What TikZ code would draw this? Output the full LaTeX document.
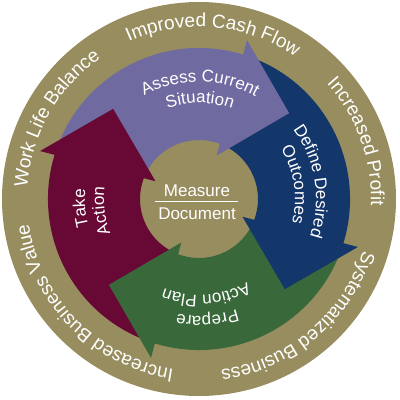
\documentclass[tikz,border=0pt]{standalone}
\usepackage{fontspec}
\setmainfont{Liberation Sans}
\usetikzlibrary{decorations.text}
\definecolor{ringcol}{RGB}{151,141,95}
\definecolor{purp}{RGB}{111,106,160}
\definecolor{navyb}{RGB}{19,54,107}
\definecolor{greenb}{RGB}{57,104,58}
\definecolor{maroonb}{RGB}{104,8,53}
\newcommand\ringfont{\fontsize{19}{19}\selectfont\color{white}}
\newcommand\labfont{\fontsize{17}{17}\selectfont\color{white}}
% #1 centre angle, #2 radius, #3 text
\newcommand\arclabel[3]{%
  \path[decorate, decoration={text along path, text align=center,
     text={|\labfont|#3}}]
     (#1+60:#2) arc[start angle=#1+60, end angle=#1-60, radius=#2];
}
\newcommand\ringlabel[2]{%
  \path[decorate, decoration={text along path, text align=center,
     text={|\ringfont|#2}}]
     (#1+55:172) arc[start angle=#1+55, end angle=#1-55, radius=172];
}
\begin{document}
\begin{tikzpicture}[x=1pt,y=1pt]
\useasboundingbox (-199,-201) rectangle (201,199);
\fill[ringcol] (0,0) circle[radius=197];
% arrow bodies
\foreach \r/\col in {0/purp,-90/navyb,-180/greenb,90/maroonb}{
  \fill[\col, rotate=\r] (156.8:59) arc[start angle=156.8, end angle=68, radius=59]
     -- (68:151) arc[start angle=68, end angle=156.8, radius=151] -- cycle;
}
% arrow heads
\foreach \r/\col in {0/purp,-90/navyb,-180/greenb,90/maroonb}{
  \fill[\col, rotate=\r] (67.8:47) -- (73.2:166) -- (43.6:124.5) -- cycle;
}
% centre
\node[anchor=base, font=\labfont] (meas) at (-2,3) {Measure};
\node[anchor=base, font=\labfont] (doc) at (-2,-20) {Document};
\coordinate (la) at (-44,-2);
\coordinate (lb) at (39,-2);
\draw[white, line width=0.9pt] (la) -- (lb);
% arrow labels
\arclabel{89.5}{117}{Assess Current}
\arclabel{89.5}{96}{Situation}
\arclabel{9}{117}{Define Desired}
\arclabel{8.7}{96}{Outcomes}
\arclabel{-86}{117}{Prepare}
\arclabel{-85.7}{96}{Action Plan}
\arclabel{184.5}{114}{Take}
\arclabel{187}{95}{Action}
% ring labels
\ringlabel{85}{Improved Cash Flow}
\ringlabel{20}{Increased Profit}
\ringlabel{-50}{Systematized Business}
\ringlabel{-135}{Increased Business Value}
\ringlabel{150.5}{Work Life Balance}
\end{tikzpicture}
\end{document}
